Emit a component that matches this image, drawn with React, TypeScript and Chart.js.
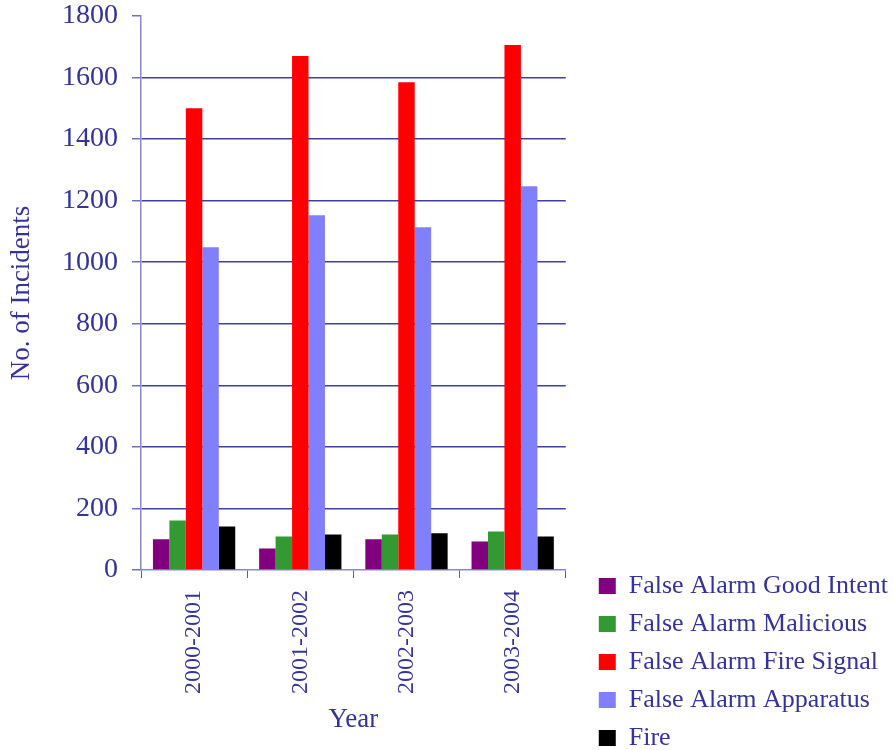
import React, { useEffect, useRef } from "react";
import { Chart, registerables } from "chart.js";

Chart.register(...registerables);

const categories = ["2000-2001", "2001-2002", "2002-2003", "2003-2004"];
const goodIntent = [100, 70, 100, 93];
const malicious = [161, 109, 115, 125];
const fireSignal = [1500, 1670, 1585, 1706];
const apparatus = [1049, 1153, 1114, 1247];
const fire = [141, 115, 119, 109];
const seriesNames = [
  "False Alarm Good Intent",
  "False Alarm Malicious",
  "False Alarm Fire Signal",
  "False Alarm Apparatus",
  "Fire",
];
const seriesColors = ["#800080", "#339933", "#ff0000", "#8080ff", "#000000"];
const yTitle = "No. of Incidents";
const xTitle = "Year";

const W = 894;
const H = 763;
const TEXT = "#333399";
const FONT = "'Liberation Serif', 'Times New Roman', serif";

export default function App() {
  const ref = useRef<HTMLCanvasElement | null>(null);
  useEffect(() => {
    if (!ref.current) return;
    const values = [goodIntent, malicious, fireSignal, apparatus, fire];
    const chart = new Chart(ref.current, {
      type: "bar",
      data: {
        labels: categories,
        datasets: values.map((v, i) => ({
          label: seriesNames[i],
          data: v,
          backgroundColor: seriesColors[i],
          borderWidth: 0,
          categoryPercentage: 0.775,
          barPercentage: 1,
        })),
      },
      options: {
        animation: false,
        responsive: false,
        layout: { padding: { top: 16, left: 0, right: -4, bottom: 0 } },
        plugins: {
          tooltip: { enabled: false },
          legend: {
            position: "right",
            align: "end",
            maxWidth: 400,
            labels: {
              boxWidth: 17,
              boxHeight: 16,
              padding: 12,
              color: TEXT,
              font: { family: FONT, size: 26 },
            },
          },
        },
        scales: {
          x: {
            offset: true,
            grid: {
              display: true,
              drawOnChartArea: false,
              offset: true,
              tickLength: 8,
              color: "#5a5aaa",
              tickColor: "#5a5aaa",
            },
            border: { display: true, color: "#8888cc", width: 1.5 },
            ticks: {
              color: TEXT,
              font: { family: FONT, size: 24 },
              minRotation: 90,
              maxRotation: 90,
              padding: 12,
              autoSkip: false,
            },
            title: {
              display: true,
              text: xTitle,
              color: TEXT,
              font: { family: FONT, size: 27 },
              padding: { top: 0, bottom: 27 },
            },
            afterFit: (s: any) => {
              s.height = H - 570;
              s.paddingLeft = 0;
              s.paddingRight = 0;
            },
          },
          y: {
            min: 0,
            max: 1800,
            ticks: {
              stepSize: 200,
              color: TEXT,
              font: { family: FONT, size: 28 },
              padding: 14,
              callback: (v: any) => String(v),
            },
            grid: {
              tickLength: 9,
              lineWidth: 1.5,
              color: (c: any) =>
                c.tick && (c.tick.value === 1800 || c.tick.value === 0)
                  ? "rgba(0,0,0,0)"
                  : "#40409c",
              tickColor: "#7070b8",
            },
            border: { display: true, color: "#8888cc", width: 1.5 },
            title: {
              display: true,
              text: yTitle,
              color: TEXT,
              font: { family: FONT, size: 27 },
              padding: { top: 6, bottom: 0 },
            },
            afterFit: (s: any) => {
              s.width = 141;
              s.paddingTop = 0;
              s.paddingBottom = 0;
            },
          },
          y2: {
            type: "linear",
            position: "right",
            display: true,
            grid: { display: false, drawTicks: false },
            ticks: { display: false },
            border: { display: false },
            afterFit: (s: any) => {
              s.width = 21;
              s.paddingTop = 0;
              s.paddingBottom = 0;
            },
          },
        },
      },
    });
    return () => chart.destroy();
  }, []);
  return (
    <div style={{ position: "fixed", left: 0, top: 0, width: W, height: H }}>
      <canvas
        ref={ref}
        width={W}
        height={H}
        style={{ display: "block", width: W, height: H }}
      />
    </div>
  );
}
